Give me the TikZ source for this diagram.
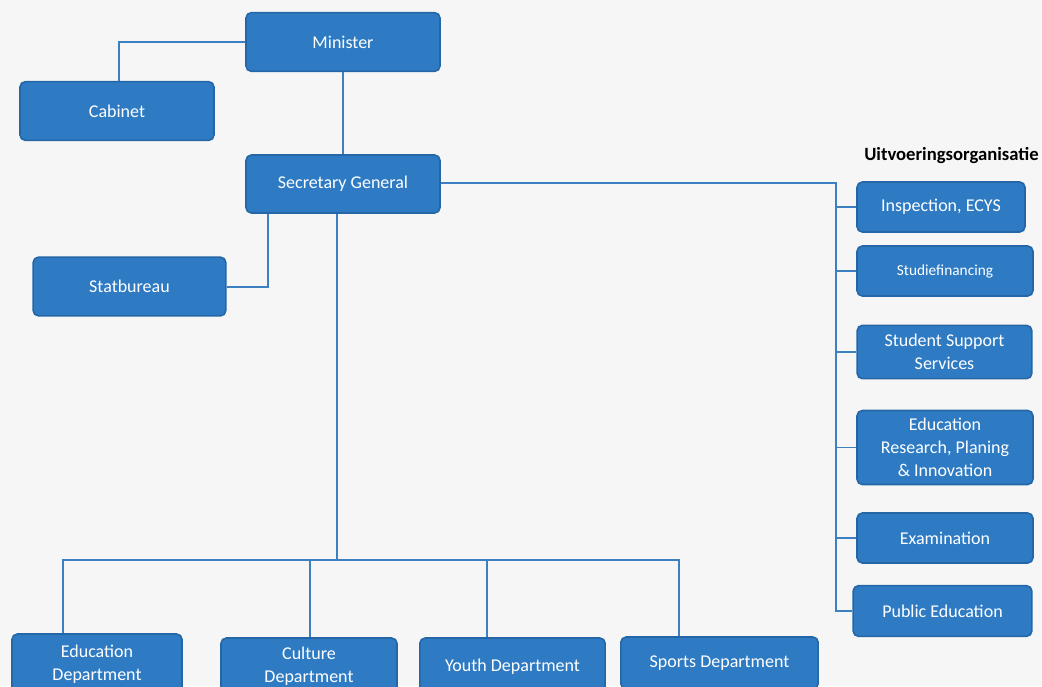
\documentclass[tikz,border=0pt]{standalone}
\usepackage{fontspec}
\setmainfont{Carlito}
\definecolor{boxfill}{HTML}{2E7BC4}
\definecolor{boxedge}{HTML}{2566A6}
\definecolor{linec}{HTML}{3C80C2}
\definecolor{bg}{HTML}{F6F6F6}
\begin{document}
\begin{tikzpicture}[x=0.75pt,y=-0.75pt,
  orgbox/.style={draw=boxedge,line width=1.2pt,fill=boxfill,rounded corners=4pt,
    text=white,font=\fontsize{13.5}{17.3}\selectfont,align=center,inner sep=2pt},
  conn/.style={draw=linec,line width=1.1pt}]
\useasboundingbox (0,0) rectangle (1042,686);
\fill[bg] (0,0) rectangle (1042,686);
\clip (0,0) rectangle (1042,686);
% top
\node[orgbox,minimum width=145.5pt,minimum height=44pt] (min) at (343,42) {Minister};
\node[orgbox,minimum width=145.5pt,minimum height=44pt] (cab) at (117,111) {Cabinet};
\node[orgbox,minimum width=145.5pt,minimum height=43.5pt] (sg) at (343,184) {Secretary General};
\node[orgbox,minimum width=144.5pt,minimum height=44pt] (stat) at (129.5,286.5) {Statbureau};
% right column
\node[orgbox,minimum width=126pt,minimum height=37.5pt] (insp) at (941,207) {Inspection, ECYS};
\node[orgbox,minimum width=132pt,minimum height=37.5pt,font=\fontsize{11.5}{13}\selectfont] (stud) at (945,271) {Studiefinancing};
\node[orgbox,minimum width=131pt,minimum height=40pt] (sss) at (944.5,352) {Student Support\\Services};
\node[orgbox,minimum width=132pt,minimum height=55.5pt] (erp) at (945,447.5) {Education\\Research, Planing\\\& Innovation};
\node[orgbox,minimum width=132pt,minimum height=37.5pt] (exam) at (945,538) {Examination};
\node[orgbox,minimum width=134pt,minimum height=38pt] (pub) at (942.5,611) {Public Education};
\node[font=\bfseries\fontsize{14}{16}\selectfont,anchor=east,inner sep=0pt] (uit) at (1039,156) {Uitvoeringsorganisatie};
% bottom row
\node[orgbox,minimum width=127.5pt,minimum height=45pt] (edu) at (97,664) {Education\\Department};
\node[orgbox,minimum width=132pt,minimum height=42.75pt] (cul) at (309,666.5) {Culture\\Department};
\node[orgbox,minimum width=139pt,minimum height=43.5pt] (youth) at (512.5,667) {Youth Department};
\node[orgbox,minimum width=148pt,minimum height=39pt] (sport) at (719.5,663) {Sports Department};
% coordinates
\coordinate (cabc) at (119,42);
\coordinate (statc) at (268,287);
\coordinate (busL) at (63,560);
\coordinate (busR) at (679,560);
\coordinate (sgb) at (337,560);
\coordinate (vr) at (836,183);
\coordinate (vb) at (836,611);
% connectors
\draw[conn] (min.west) -- (cabc) -- (cab.north -| cabc);
\draw[conn] (min.south) -- (sg.north);
\draw[conn] (sg.south -| statc) -- (statc) -- (stat.east |- statc);
\draw[conn] (sg.south -| sgb) -- (sgb);
\draw[conn] (edu.north -| busL) -- (busL) -- (busR) -- (sport.north -| busR);
\draw[conn] (busL -| 310,0) -- (cul.north -| 310,0);
\draw[conn] (busL -| 487,0) -- (youth.north -| 487,0);
\draw[conn] (sg.east |- vr) -- (vr) -- (vb) -- (pub.west |- vb);
\draw[conn] (vr |- insp.west) -- (insp.west);
\draw[conn] (vr |- stud.west) -- (stud.west);
\draw[conn] (vr |- sss.west) -- (sss.west);
\draw[conn] (vr |- erp.west) -- (erp.west);
\draw[conn] (vr |- exam.west) -- (exam.west);
\end{tikzpicture}
\end{document}
